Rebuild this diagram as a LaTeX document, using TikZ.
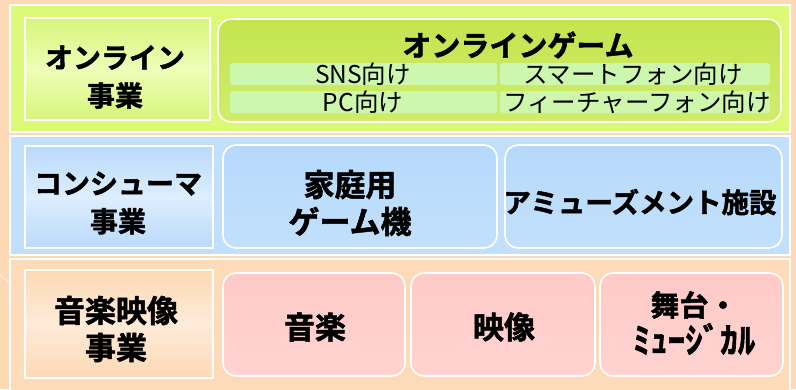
\documentclass[tikz,border=0pt]{standalone}
\usepackage{fontspec}
\newfontfamily\jpb[FakeBold=1.6]{Noto Sans CJK JP Bold}
\newfontfamily\jpr{Noto Sans CJK JP}
\definecolor{peach}{HTML}{FDD9B5}
\definecolor{bandg}{HTML}{DCF877}
\definecolor{labg}{HTML}{D6F57A}
\definecolor{labgc}{HTML}{EEFDB8}
\definecolor{gamet}{HTML}{C3E54E}
\definecolor{gameb}{HTML}{D0EC6A}
\definecolor{subg}{HTML}{CDF7AC}
\definecolor{bandb}{HTML}{C2E0FB}
\definecolor{labb}{HTML}{B9DAFA}
\definecolor{labbc}{HTML}{DDEEFF}
\definecolor{boxb}{HTML}{B6D9FB}
\definecolor{boxbb}{HTML}{C2E0FC}
\definecolor{bandp}{HTML}{FDDAB8}
\definecolor{labp}{HTML}{FCD9B4}
\definecolor{labpc}{HTML}{FFEBD9}
\definecolor{boxp}{HTML}{FFCAC8}
\definecolor{boxpb}{HTML}{FFD3D0}
\tikzset{
  band/.style={draw=white, line width=1.6pt},
  label/.style={draw=white, line width=1.6pt},
  rbox/.style={draw=white, line width=1.6pt, rounded corners=13pt},
  sub/.style={fill=subg, rounded corners=2.5pt},
  ltxt/.style={font=\jpb\fontsize{28}{38}\selectfont, align=center, inner sep=0pt},
  btxt/.style={font=\jpb\fontsize{31}{37}\selectfont, align=center, inner sep=0pt},
  stxt/.style={font=\jpr\fontsize{24.5}{24}\selectfont, inner sep=0pt},
}
\begin{document}
\begin{tikzpicture}[x=1pt,y=-1pt]
\useasboundingbox (0,0) rectangle (796,389);
\fill[peach] (0,0) rectangle (796,389);
\draw[white, opacity=0.7, line width=0.8pt] (0,275) -- (10,283);
% ---------- top band
\path[band, fill=bandg] (10,5) rectangle (790,132);
\path[label, top color=labg, bottom color=labg, middle color=labgc] (25,18) rectangle (210,120);
\node[ltxt] (lab1) at (115,77) {オンライン\\事業};
\path[rbox, top color=gamet, bottom color=gameb] (218,19) rectangle (781,122);
\node[font=\jpb\fontsize{29}{29}\selectfont, inner sep=0pt] (game) at (518,45) {オンラインゲーム};
\path[sub] (230,63) rectangle (497,85);
\path[sub] (500,63) rectangle (770,85);
\path[sub] (230,91) rectangle (497,113);
\path[sub] (500,91) rectangle (770,113);
\node[stxt] (sns) at (363,74) {SNS向け};
\node[stxt] (sp) at (633,74) {スマートフォン向け};
\node[stxt] (pc) at (363,102) {PC向け};
\node[stxt] (fp) at (637,102) {フィーチャーフォン向け};
% ---------- middle band
\path[band, fill=bandb] (10,136) rectangle (790,255);
\path[label, top color=labb, bottom color=labb, middle color=labbc] (25,146) rectangle (213,248);
\node[ltxt] (lab2) at (118,203) {コンシューマ\\事業};
\path[rbox, top color=boxb, bottom color=boxbb] (223,145) rectangle (497,248);
\node[btxt] (home) at (350,203) {家庭用\\ゲーム機};
\path[rbox, top color=boxb, bottom color=boxbb] (505,145) rectangle (782,248);
\node[font=\jpb\fontsize{27.5}{27.5}\selectfont, inner sep=0pt] (amuse) at (640,202) {アミューズメント施設};
% ---------- bottom band
\path[band, fill=bandp] (10,259) rectangle (790,395);
\path[label, top color=labp, bottom color=labp, middle color=labpc] (25,270) rectangle (213,378);
\node[btxt] (lab3) at (116,329) {音楽映像\\事業};
\path[rbox, top color=boxp, bottom color=boxpb] (223,273) rectangle (405,376);
\node[btxt] (music) at (315,327) {音楽};
\path[rbox, top color=boxp, bottom color=boxpb] (411,273) rectangle (595,376);
\node[btxt] (video) at (504,327) {映像};
\path[rbox, top color=boxp, bottom color=boxpb] (600,273) rectangle (783,376);
\node[font=\jpb\fontsize{29}{37}\selectfont, align=center, inner sep=0pt] (stage) at (694,323) {舞台・\\{\fontsize{35}{37}\selectfont ﾐｭｰｼﾞｶﾙ}};
\end{tikzpicture}
\end{document}
